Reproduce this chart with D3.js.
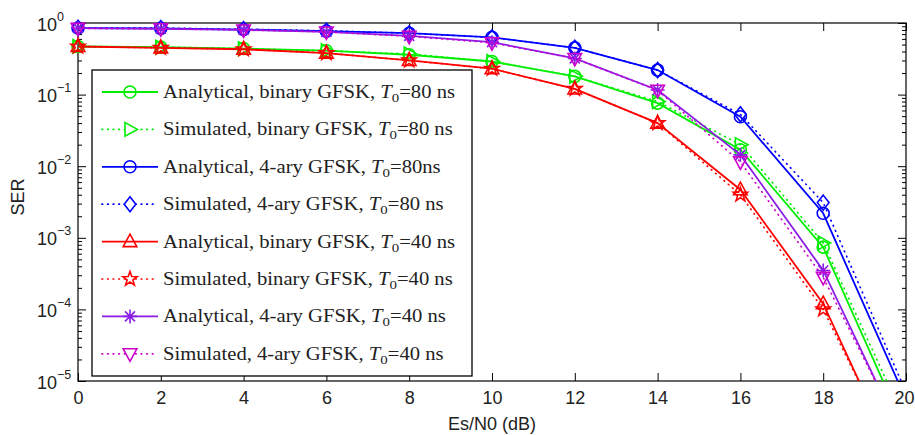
<!DOCTYPE html>
<html>
<head>
<meta charset="utf-8">
<script src="https://cdn.jsdelivr.net/npm/d3@7"></script>
<style>
  html, body { margin: 0; padding: 0; background: #fff; }
  svg { display: block; }
</style>
</head>
<body>
<svg id="chart" width="915" height="435"></svg>
<script>
// ---------------- data ----------------
const esn0 = [0, 2, 4, 6, 8, 10, 12, 14, 16, 18, 20];
const xTickValues = [0, 2, 4, 6, 8, 10, 12, 14, 16, 18, 20];
const yExponents = [0, -1, -2, -3, -4, -5];

const anaBinary80 = [0.47, 0.46, 0.44, 0.41, 0.36, 0.29, 0.18, 0.076, 0.017, 7.4e-4, 1.9e-6];
const simBinary80 = [0.47, 0.46, 0.44, 0.41, 0.37, 0.29, 0.18, 0.080, 0.020, 8.5e-4, 2.6e-6];
const ana4ary80   = [0.85, 0.84, 0.81, 0.77, 0.72, 0.63, 0.45, 0.22, 0.049, 2.2e-3, 5.5e-6];
const sim4ary80   = [0.86, 0.85, 0.82, 0.78, 0.72, 0.63, 0.45, 0.22, 0.053, 3.1e-3, 7.0e-6];
const anaBinary40 = [0.47, 0.45, 0.43, 0.38, 0.30, 0.23, 0.12, 0.040, 4.7e-3, 1.2e-4, 3.8e-7];
const simBinary40 = [0.47, 0.45, 0.43, 0.38, 0.30, 0.23, 0.12, 0.040, 4.0e-3, 1.0e-4, 4.5e-7];
const ana4ary40   = [0.85, 0.83, 0.80, 0.75, 0.66, 0.54, 0.32, 0.116, 0.0144, 3.5e-4, 1.3e-6];
const sim4ary40   = [0.84, 0.83, 0.80, 0.75, 0.65, 0.53, 0.32, 0.115, 0.0115, 2.8e-4, 1.4e-6];

const seriesNames = [
  ["Analytical, binary GFSK, ", "=80 ns"],
  ["Simulated, binary GFSK, ", "=80 ns"],
  ["Analytical, 4-ary GFSK, ", "=80ns"],
  ["Simulated, 4-ary GFSK, ", "=80 ns"],
  ["Analytical, binary GFSK, ", "=40 ns"],
  ["Simulated, binary GFSK, ", "=40 ns"],
  ["Analytical, 4-ary GFSK, ", "=40 ns"],
  ["Simulated, 4-ary GFSK, ", "=40 ns"]
];
const seriesValues = [anaBinary80, simBinary80, ana4ary80, sim4ary80, anaBinary40, simBinary40, ana4ary40, sim4ary40];

// ---------------- styles ----------------
const styles = [
  { color: "#00ee00", dotted: false, marker: "circle" },
  { color: "#00ee00", dotted: true,  marker: "triRight" },
  { color: "#0000ff", dotted: false, marker: "circle" },
  { color: "#0000ff", dotted: true,  marker: "diamond" },
  { color: "#ff0000", dotted: false, marker: "triUp" },
  { color: "#ff0000", dotted: true,  marker: "star" },
  { color: "#8a1ee6", dotted: false, marker: "asterisk" },
  { color: "#cc00cc", dotted: true,  marker: "triDown" }
];

const W = 915, H = 435;
const plot = { left: 78, right: 906, top: 23, bottom: 381 };

const svg = d3.select("#chart");
const x = d3.scaleLinear().domain([0, 20]).range([plot.left, plot.right]);
const y = d3.scaleLog().domain([1e-5, 1]).range([plot.bottom, plot.top]);

svg.append("rect").attr("width", W).attr("height", H).attr("fill", "#fff");

svg.append("defs").append("clipPath").attr("id", "clip")
  .append("rect")
  .attr("x", plot.left).attr("y", plot.top)
  .attr("width", plot.right - plot.left).attr("height", plot.bottom - plot.top);

// marker paths
function markerPath(type) {
  const p = d3.path();
  if (type === "circle") {
    p.moveTo(6, 0); p.arc(0, 0, 6, 0, Math.PI * 2);
  } else if (type === "triUp") {
    p.moveTo(0, -7.5); p.lineTo(6.8, 5); p.lineTo(-6.8, 5); p.closePath();
  } else if (type === "triDown") {
    p.moveTo(0, 7.5); p.lineTo(6.8, -5); p.lineTo(-6.8, -5); p.closePath();
  } else if (type === "triRight") {
    p.moveTo(7.5, 0); p.lineTo(-5, -6.8); p.lineTo(-5, 6.8); p.closePath();
  } else if (type === "diamond") {
    p.moveTo(0, -7.5); p.lineTo(5.8, 0); p.lineTo(0, 7.5); p.lineTo(-5.8, 0); p.closePath();
  } else if (type === "star") {
    const R = 7.5, r = 3.0;
    for (let i = 0; i < 10; i++) {
      const a = -Math.PI / 2 + i * Math.PI / 5;
      const rr = i % 2 === 0 ? R : r;
      const px = rr * Math.cos(a), py = rr * Math.sin(a);
      if (i === 0) p.moveTo(px, py); else p.lineTo(px, py);
    }
    p.closePath();
  } else if (type === "asterisk") {
    const R = 7, d = 5;
    p.moveTo(0, -R); p.lineTo(0, R);
    p.moveTo(-R, 0); p.lineTo(R, 0);
    p.moveTo(-d, -d); p.lineTo(d, d);
    p.moveTo(-d, d); p.lineTo(d, -d);
  }
  return p.toString();
}

// ---------------- axes / ticks ----------------
const tickFont = "'Liberation Sans', Arial, Helvetica, sans-serif";
const tickSize = 18;

const xBottom = svg.append("g").attr("transform", `translate(0,${plot.bottom})`)
  .call(d3.axisBottom(x).tickValues(xTickValues).tickSize(-8).tickPadding(10)
        .tickFormat(d3.format("d")));
const xTop = svg.append("g").attr("transform", `translate(0,${plot.top})`)
  .call(d3.axisTop(x).tickValues(xTickValues).tickSize(-8).tickFormat(""));

const majorY = yExponents.map(e => Math.pow(10, e));
const minorY = [];
for (let e = -5; e < 0; e++) for (let m = 2; m <= 9; m++) minorY.push(m * Math.pow(10, e));

const yLeft = svg.append("g").attr("transform", `translate(${plot.left},0)`)
  .call(d3.axisLeft(y).tickValues(majorY).tickSize(-8).tickFormat(""));
const yLeftMinor = svg.append("g").attr("transform", `translate(${plot.left},0)`)
  .call(d3.axisLeft(y).tickValues(minorY).tickSize(-4).tickFormat(""));
const yRight = svg.append("g").attr("transform", `translate(${plot.right},0)`)
  .call(d3.axisRight(y).tickValues(majorY).tickSize(-8).tickFormat(""));
const yRightMinor = svg.append("g").attr("transform", `translate(${plot.right},0)`)
  .call(d3.axisRight(y).tickValues(minorY).tickSize(-4).tickFormat(""));

[xBottom, xTop, yLeft, yLeftMinor, yRight, yRightMinor].forEach(g => {
  g.select(".domain").remove();
  g.selectAll(".tick line").attr("stroke", "#000").attr("stroke-width", 1);
});
xBottom.selectAll(".tick text")
  .attr("font-family", tickFont).attr("font-size", tickSize).attr("fill", "#222");
// keep the last label ("20") fully inside the picture
xBottom.selectAll(".tick text").filter(d => d === 20)
  .attr("text-anchor", "end").attr("x", W - plot.right - 1);

// y tick labels 10^e
yLeft.selectAll(".tick").each(function (d) {
  const e = Math.round(Math.log10(d));
  const t = d3.select(this).append("text")
    .attr("x", 37 - plot.left).attr("y", 7)
    .attr("text-anchor", "start")
    .attr("font-family", tickFont).attr("font-size", tickSize).attr("fill", "#222");
  t.append("tspan").text("10");
  t.append("tspan").attr("dy", -10).attr("font-size", 12.5)
    .text(e === 0 ? "0" : "\u2212" + Math.abs(e));
});

// axis titles
svg.append("text")
  .attr("x", x(10)).attr("y", 430)
  .attr("text-anchor", "middle")
  .attr("font-family", tickFont).attr("font-size", tickSize).attr("fill", "#222")
  .text("Es/N0 (dB)");
svg.append("text")
  .attr("transform", `translate(24,${(plot.top + plot.bottom) / 2 - 5}) rotate(-90)`)
  .attr("text-anchor", "middle")
  .attr("font-family", tickFont).attr("font-size", tickSize).attr("fill", "#222")
  .text("SER");

// frame
svg.append("rect")
  .attr("x", plot.left).attr("y", plot.top)
  .attr("width", plot.right - plot.left).attr("height", plot.bottom - plot.top)
  .attr("fill", "none").attr("stroke", "#000").attr("stroke-width", 1.2);

// ---------------- series ----------------
const dotDash = "0.6,5";
const line = d3.line().x(d => x(d[0])).y(d => y(d[1]));
const gData = svg.append("g");
seriesValues.forEach((vals, i) => {
  const st = styles[i];
  const pts = esn0.map((v, j) => [v, vals[j]]);
  gData.append("path")
    .attr("d", line(pts))
    .attr("clip-path", "url(#clip)")
    .attr("fill", "none")
    .attr("stroke", st.color)
    .attr("stroke-width", st.dotted ? 1.7 : 1.8)
    .attr("stroke-dasharray", st.dotted ? dotDash : null)
    .attr("stroke-linecap", st.dotted ? "round" : "butt");
  gData.selectAll(null)
    .data(pts.filter(p => p[1] >= 1e-5))
    .enter().append("path")
    .attr("transform", p => `translate(${x(p[0])},${y(p[1])})`)
    .attr("d", markerPath(st.marker))
    .attr("fill", "none")
    .attr("stroke", st.color)
    .attr("stroke-width", 1.6);
});

// ---------------- legend ----------------
const leg = { x: 92, y: 70, w: 380, h: 306, rowY0: 92, rowStep: 37.4, textX: 163, rowWidth: 292 };
const gLeg = svg.append("g");
gLeg.append("rect")
  .attr("x", leg.x).attr("y", leg.y).attr("width", leg.w).attr("height", leg.h)
  .attr("fill", "#fff").attr("stroke", "#000").attr("stroke-width", 1.3);

const legFont = "'Liberation Serif', 'Times New Roman', serif";
const texts = [];
seriesNames.forEach((nm, i) => {
  const st = styles[i];
  const ry = leg.rowY0 + i * leg.rowStep;
  gLeg.append("line")
    .attr("x1", 102).attr("x2", 158).attr("y1", ry).attr("y2", ry)
    .attr("stroke", st.color).attr("stroke-width", st.dotted ? 1.7 : 1.8)
    .attr("stroke-dasharray", st.dotted ? dotDash : null)
    .attr("stroke-linecap", st.dotted ? "round" : "butt");
  gLeg.append("path")
    .attr("transform", `translate(130,${ry})`)
    .attr("d", markerPath(st.marker))
    .attr("fill", st.dotted ? "#fff" : "none")
    .attr("stroke", st.color).attr("stroke-width", 1.6);
  const t = gLeg.append("text")
    .attr("x", leg.textX).attr("y", ry + 6)
    .attr("font-family", legFont).attr("font-size", 18).attr("fill", "#222");
  t.append("tspan").text(nm[0]);
  t.append("tspan").attr("font-style", "italic").text("T");
  t.append("tspan").attr("dy", 4).attr("font-size", 13).text("0");
  t.append("tspan").attr("dy", -4).text(nm[1]);
  texts.push(t);
});
// emulate the horizontally stretched serif text of the original
const k = leg.rowWidth / texts[0].node().getComputedTextLength();
texts.forEach(t => {
  const len = t.node().getComputedTextLength();
  t.attr("textLength", len * k).attr("lengthAdjust", "spacingAndGlyphs");
});
</script>
</body>
</html>
